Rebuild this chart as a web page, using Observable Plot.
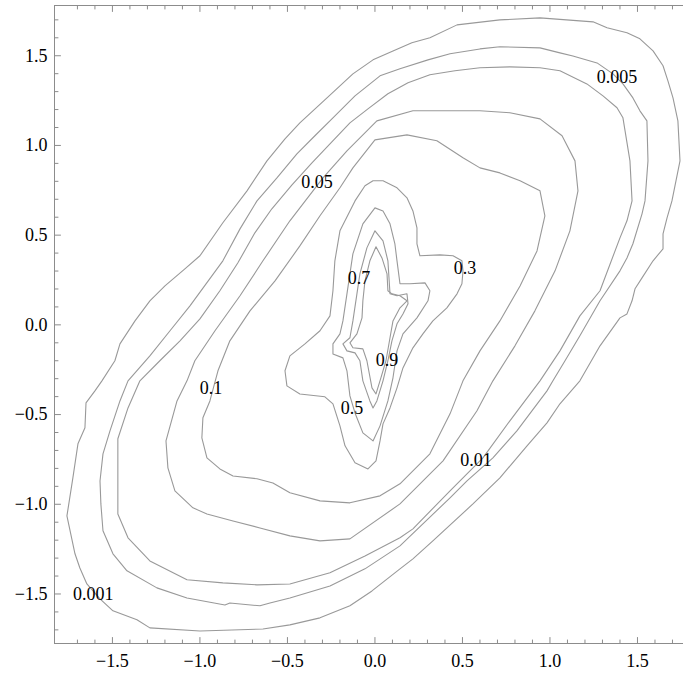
<!DOCTYPE html>
<html><head><meta charset="utf-8">
<script src="https://cdn.jsdelivr.net/npm/d3@7"></script>
<script src="https://cdn.jsdelivr.net/npm/@observablehq/plot@0.6"></script>
<style>body{margin:0;background:#fff;overflow:hidden}</style>
</head><body><div id="chart"></div>
<script>
const contourLevels = ["0.001","0.005","0.01","0.05","0.1","0.3","0.5","0.7","0.9"];

const level0001 = [[-1.76,-1.065],[-1.726,-0.853],[-1.697,-0.663],[-1.657,-0.574],[-1.651,-0.435],[-1.6,-0.368],[-1.56,-0.312],[-1.486,-0.2],[-1.457,-0.106],[-1.371,0.022],[-1.286,0.134],[-1.2,0.217],[-1.086,0.312],[-1.0,0.385],[-0.869,0.569],[-0.731,0.747],[-0.617,0.914],[-0.514,1.037],[-0.429,1.126],[-0.274,1.265],[-0.126,1.399],[-0.011,1.477],[0.103,1.527],[0.211,1.572],[0.314,1.6],[0.469,1.672],[0.714,1.7],[0.943,1.711],[1.246,1.689],[1.326,1.656],[1.44,1.628],[1.514,1.594],[1.589,1.527],[1.646,1.444],[1.674,1.36],[1.703,1.265],[1.731,1.137],[1.743,0.914],[1.697,0.691],[1.669,0.596],[1.646,0.507],[1.646,0.424],[1.589,0.357],[1.526,0.262],[1.486,0.201],[1.469,0.134],[1.44,0.061],[1.4,0.039],[1.286,-0.117],[1.171,-0.312],[1.057,-0.44],[0.983,-0.546],[0.869,-0.674],[0.714,-0.853],[0.56,-0.998],[0.331,-1.204],[0.217,-1.304],[0.143,-1.36],[-0.017,-1.483],[-0.143,-1.566],[-0.314,-1.633],[-0.486,-1.672],[-0.64,-1.695],[-1.0,-1.706],[-1.286,-1.689],[-1.36,-1.644],[-1.497,-1.594],[-1.571,-1.527],[-1.646,-1.444],[-1.686,-1.355],[-1.714,-1.276]];

const level0005 = [[-1.411,-0.312],[-1.457,-0.424],[-1.514,-0.591],[-1.554,-0.719],[-1.571,-0.87],[-1.566,-0.998],[-1.554,-1.148],[-1.497,-1.276],[-1.417,-1.371],[-1.246,-1.466],[-1.074,-1.522],[-0.857,-1.561],[-0.829,-1.55],[-0.657,-1.566],[-0.6,-1.55],[-0.486,-1.522],[-0.257,-1.455],[-0.057,-1.36],[0.143,-1.232],[0.429,-0.964],[0.526,-0.87],[0.674,-0.741],[0.811,-0.591],[0.983,-0.368],[1.017,-0.312],[1.086,-0.2],[1.171,-0.061],[1.286,0.134],[1.4,0.301],[1.44,0.373],[1.474,0.452],[1.526,0.619],[1.543,0.691],[1.56,0.914],[1.554,1.137],[1.514,1.193],[1.474,1.265],[1.417,1.343],[1.36,1.399],[1.269,1.46],[1.131,1.499],[1.057,1.516],[0.943,1.544],[0.714,1.55],[0.6,1.538],[0.429,1.511],[0.303,1.477],[0.143,1.427],[0.029,1.388],[-0.114,1.276],[-0.24,1.154],[-0.343,1.054],[-0.446,0.953],[-0.56,0.819],[-0.674,0.691],[-0.771,0.535],[-0.869,0.357],[-1.057,0.106],[-1.171,-0.033],[-1.286,-0.173]];

const level001 = [[-1.343,-0.312],[-1.411,-0.463],[-1.469,-0.635],[-1.469,-0.87],[-1.469,-1.054],[-1.411,-1.187],[-1.286,-1.316],[-1.074,-1.421],[-0.869,-1.438],[-0.674,-1.449],[-0.486,-1.444],[-0.257,-1.382],[-0.057,-1.288],[0.143,-1.187],[0.217,-1.137],[0.429,-0.925],[0.486,-0.87],[0.617,-0.741],[0.771,-0.535],[0.943,-0.312],[1.057,-0.145],[1.171,0.05],[1.286,0.19],[1.4,0.485],[1.44,0.58],[1.469,0.691],[1.457,0.914],[1.417,1.154],[1.383,1.21],[1.303,1.276],[1.211,1.343],[1.057,1.416],[0.943,1.433],[0.771,1.438],[0.6,1.433],[0.457,1.416],[0.314,1.394],[0.189,1.349],[0.074,1.288],[-0.04,1.204],[-0.143,1.126],[-0.257,1.009],[-0.36,0.903],[-0.474,0.78],[-0.589,0.647],[-0.686,0.513],[-0.783,0.346],[-0.886,0.19],[-1.0,0.033],[-1.114,-0.089],[-1.229,-0.2]];

const level005 = [[-1.074,-0.312],[-1.131,-0.424],[-1.194,-0.647],[-1.183,-0.797],[-1.143,-0.925],[-1.04,-1.02],[-0.96,-1.054],[-0.811,-1.093],[-0.657,-1.132],[-0.486,-1.176],[-0.314,-1.204],[-0.143,-1.193],[0.143,-0.998],[0.389,-0.758],[0.583,-0.479],[0.674,-0.312],[0.8,-0.117],[0.914,0.078],[1.029,0.301],[1.114,0.524],[1.16,0.747],[1.143,0.914],[1.069,1.054],[0.943,1.148],[0.771,1.182],[0.6,1.193],[0.217,1.193],[0.011,1.137],[-0.16,0.97],[-0.297,0.819],[-0.486,0.58],[-0.64,0.357],[-0.771,0.162],[-0.914,-0.033],[-1.029,-0.2]];

const level01 = [[-0.943,-0.424],[-0.983,-0.518],[-0.989,-0.63],[-0.96,-0.741],[-0.886,-0.803],[-0.811,-0.842],[-0.674,-0.858],[-0.583,-0.881],[-0.486,-0.936],[-0.314,-0.981],[-0.143,-0.992],[0.029,-0.953],[0.143,-0.886],[0.314,-0.719],[0.429,-0.496],[0.503,-0.312],[0.6,-0.145],[0.714,0.022],[0.829,0.217],[0.926,0.412],[0.971,0.608],[0.943,0.747],[0.829,0.803],[0.714,0.847],[0.6,0.875],[0.503,0.931],[0.354,1.026],[0.183,1.059],[0.0,1.031],[-0.126,0.875],[-0.2,0.764],[-0.314,0.608],[-0.429,0.44],[-0.571,0.245],[-0.714,0.078],[-0.829,-0.089],[-0.897,-0.256]];

const level03 = [[-0.011,0.803],[0.046,0.803],[0.126,0.764],[0.183,0.708],[0.217,0.635],[0.24,0.541],[0.24,0.451],[0.257,0.385],[0.371,0.39],[0.446,0.385],[0.497,0.357],[0.503,0.301],[0.497,0.229],[0.469,0.173],[0.411,0.095],[0.331,0.022],[0.274,-0.05],[0.217,-0.128],[0.16,-0.24],[0.126,-0.351],[0.086,-0.463],[0.046,-0.552],[0.029,-0.647],[0.006,-0.758],[-0.04,-0.803],[-0.114,-0.769],[-0.171,-0.674],[-0.2,-0.563],[-0.24,-0.44],[-0.286,-0.401],[-0.429,-0.385],[-0.503,-0.34],[-0.514,-0.256],[-0.486,-0.173],[-0.4,-0.106],[-0.314,-0.033],[-0.257,0.05],[-0.24,0.19],[-0.229,0.357],[-0.2,0.524],[-0.114,0.691],[-0.057,0.775]];

const level05 = [[0.0,0.652],[0.046,0.635],[0.086,0.563],[0.114,0.451],[0.126,0.357],[0.143,0.229],[0.2,0.229],[0.286,0.234],[0.314,0.19],[0.303,0.134],[0.24,0.039],[0.16,-0.05],[0.126,-0.145],[0.103,-0.295],[0.074,-0.424],[0.029,-0.563],[-0.011,-0.647],[-0.069,-0.602],[-0.114,-0.491],[-0.143,-0.396],[-0.16,-0.256],[-0.183,-0.184],[-0.24,-0.162],[-0.24,-0.106],[-0.2,-0.05],[-0.183,0.022],[-0.16,0.173],[-0.126,0.396],[-0.069,0.563]];

const level07 = [[0,0.524],[0.046,0.468],[0.074,0.357],[0.086,0.173],[0.126,0.162],[0.183,0.173],[0.189,0.117],[0.16,0.061],[0.126,0.006],[0.097,-0.089],[0.074,-0.2],[0.046,-0.312],[0.011,-0.424],[-0.011,-0.463],[-0.029,-0.424],[-0.069,-0.312],[-0.086,-0.2],[-0.114,-0.156],[-0.16,-0.145],[-0.183,-0.106],[-0.143,-0.072],[-0.126,0.022],[-0.103,0.173],[-0.086,0.284],[-0.046,0.429]];

const level09 = [[0.006,0.435],[0.04,0.373],[0.069,0.284],[0.074,0.19],[0.097,0.173],[0.143,0.162],[0.183,0.134],[0.143,0.095],[0.103,0.022],[0.086,-0.072],[0.063,-0.2],[0.034,-0.295],[0.006,-0.385],[-0.017,-0.351],[-0.046,-0.2],[-0.069,-0.134],[-0.126,-0.128],[-0.143,-0.1],[-0.103,-0.05],[-0.074,0.039],[-0.069,0.134],[-0.057,0.245],[-0.029,0.357]];

const labelText = ["0.001","0.005","0.01","0.05","0.1","0.3","0.5","0.7","0.9"];
const labelX = [-1.609, 1.383, 0.577, -0.331, -0.937, 0.514, -0.131, -0.091, 0.069];
const labelY = [-1.5, 1.382, -0.753, 0.797, -0.351, 0.313, -0.463, 0.258, -0.195];

const majorTicks = [-1.5, -1.0, -0.5, 0.0, 0.5, 1.0, 1.5];
const minorTicks = [-1.7,-1.6,-1.4,-1.3,-1.2,-1.1,-0.9,-0.8,-0.7,-0.6,-0.4,-0.3,-0.2,-0.1,0.1,0.2,0.3,0.4,0.6,0.7,0.8,0.9,1.1,1.2,1.3,1.4,1.6,1.7];

const xDomain = [-1.831, 1.763];
const yDomain = [-1.776, 1.780];

const contourSets = [level0001, level0005, level001, level005, level01, level03, level05, level07, level09];
const contourRows = contourSets.flatMap((pts, k) => pts.map(([x, y]) => ({level: contourLevels[k], x, y})));
const labelRows = labelText.map((t, i) => ({text: t, x: labelX[i], y: labelY[i]}));

const tickShape = {draw(context, l) { context.moveTo(0, 0); context.lineTo(0, -l); }};
const axisGray = "#8c8c8c";

function tickMarks(values, len) {
  return [
    Plot.vector(values, {x: d => d, y: () => yDomain[0], length: len, rotate: 0, anchor: "start", shape: tickShape, stroke: axisGray, strokeWidth: 1}),
    Plot.vector(values, {x: d => d, y: () => yDomain[1], length: len, rotate: 180, anchor: "start", shape: tickShape, stroke: axisGray, strokeWidth: 1}),
    Plot.vector(values, {x: () => xDomain[0], y: d => d, length: len, rotate: 90, anchor: "start", shape: tickShape, stroke: axisGray, strokeWidth: 1})
  ];
}

const chart = Plot.plot({
  width: 683,
  height: 673,
  marginLeft: 54,
  marginRight: 0,
  marginTop: 5,
  marginBottom: 30,
  x: {domain: xDomain},
  y: {domain: yDomain},
  style: {fontFamily: "'Liberation Serif', 'Times New Roman', serif", fontSize: "18px", background: "white", color: "black"},
  marks: [
    Plot.line(contourRows, {x: "x", y: "y", z: "level", curve: "linear-closed", stroke: "#999", strokeWidth: 1.1}),
    Plot.ruleY([yDomain[0], yDomain[1]], {stroke: axisGray}),
    Plot.ruleX([xDomain[0]], {stroke: axisGray}),
    ...tickMarks(majorTicks, 6),
    ...tickMarks(minorTicks, 3.5),
    Plot.axisX(majorTicks, {anchor: "bottom", tickSize: 0, tickPadding: 11, tickFormat: d3.format(".1f"), fontSize: 18, label: null}),
    Plot.axisY(majorTicks, {anchor: "left", tickSize: 0, tickPadding: 7, tickFormat: d3.format(".1f"), fontSize: 18, label: null}),
    Plot.text(labelRows, {x: "x", y: "y", text: "text", fontSize: 18, fill: "black"})
  ]
});
document.getElementById("chart").appendChild(chart);
</script>
</body></html>
